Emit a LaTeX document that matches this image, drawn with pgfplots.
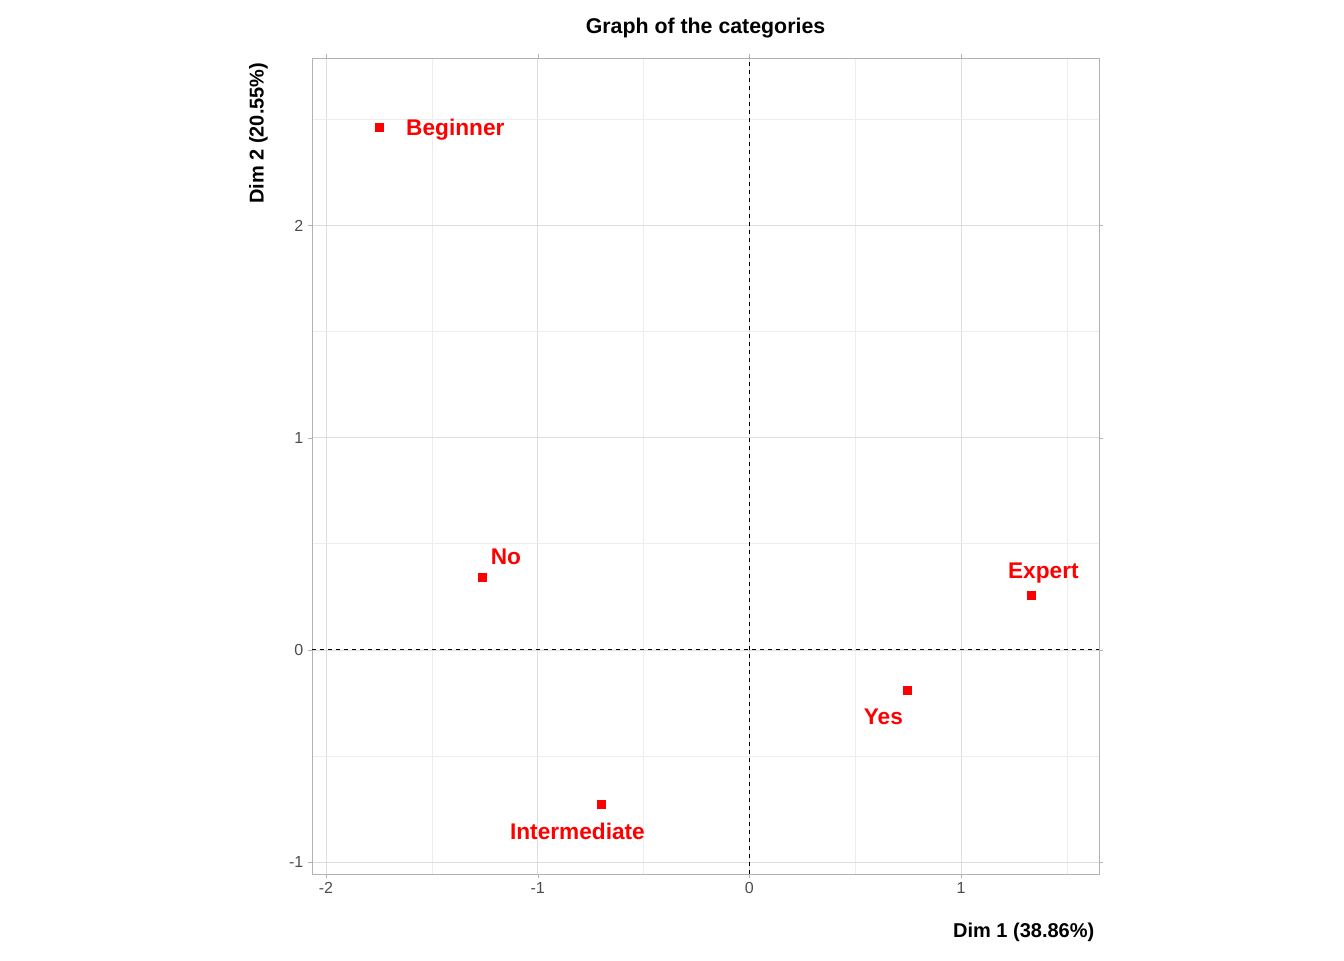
\documentclass[border=0pt]{standalone}
\usepackage{pgfplots}
\pgfplotsset{compat=1.18}
\usepackage{fontspec}
\setmainfont{Liberation Sans}
\begin{document}
\begin{tikzpicture}
\path[use as bounding box] (0pt,0pt) rectangle (1008pt,-720pt);
\begin{axis}[at={(234pt,-655.5pt)},anchor=south west,scale only axis,
 width=590.25pt,height=612pt,
 xmin=-2.066,xmax=1.652,ymin=-1.057,ymax=2.79,
 xtick={-2,-1,0,1},ytick={-1,0,1,2},
 minor xtick={-1.5,-0.5,0.5,1.5},minor ytick={-0.5,0.5,1.5,2.5},
 grid=both,major grid style={color=black!13},minor grid style={color=black!7},
 axis line style={color=black!30},
 tick style={color=black!30},tick align=outside,major tick length=3pt,minor tick length=0pt,
 tick label style={font=\fontsize{12}{14}\selectfont,color=black!70},
 /pgf/number format/assume math mode=true,
 clip=false]
\addplot[only marks,mark=square*,mark size=3pt,color=red] coordinates {
(-1.748,2.462) (-1.261,0.340) (1.332,0.259) (0.746,-0.193) (-0.699,-0.726)};
\draw[dashed,thick] (axis cs:-2.066,0) -- (axis cs:1.652,0);
\draw[dashed,thick] (axis cs:0,-1.057) -- (axis cs:0,2.79);
\begin{scope}[every node/.style={text=red,font=\bfseries\fontsize{17}{20}\selectfont}]
\node at (axis cs:-1.389,2.453) {Beginner};
\node at (axis cs:-1.15,0.439) {No};
\node at (axis cs:1.389,0.363) {Expert};
\node at (axis cs:0.633,-0.316) {Yes};
\node at (axis cs:-0.812,-0.854) {Intermediate};
\end{scope}
\node[font=\bfseries\fontsize{16}{19}\selectfont] at (rel axis cs:0.5,1.037) {Graph of the categories};
\node[font=\bfseries\fontsize{15}{18}\selectfont,anchor=east] at (rel axis cs:1,-0.071) {Dim 1 (38.86\%)};
\node[font=\bfseries\fontsize{15}{18}\selectfont,anchor=east,rotate=90] at (rel axis cs:-0.068,1) {Dim 2 (20.55\%)};
\end{axis}
\end{tikzpicture}
\end{document}
